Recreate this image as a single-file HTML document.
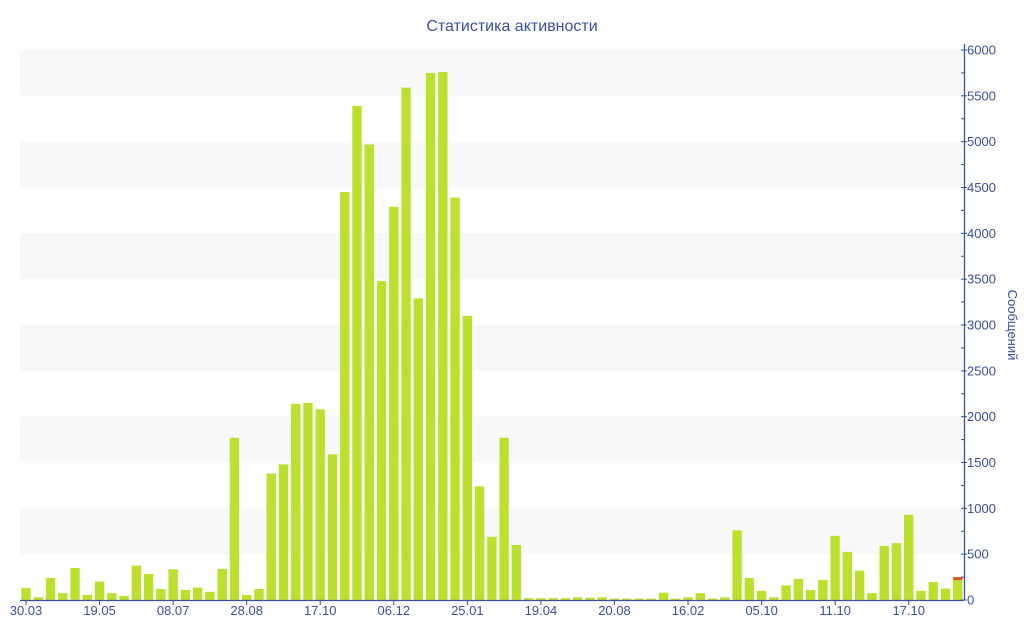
<!DOCTYPE html>
<html><head><meta charset="utf-8"><style>
html,body{margin:0;padding:0;background:#fff}
svg{display:block;font-family:"Liberation Sans","DejaVu Sans",sans-serif}
</style></head><body>
<svg id="c" width="1024" height="640" xmlns="http://www.w3.org/2000/svg">
<rect width="1024" height="640" fill="#fff"/>
<g id="bands"></g>
<g id="bars"></g>
<line x1="20" y1="600.5" x2="964" y2="600.5" stroke="#3d4f9f" stroke-width="1.3"/>
<line x1="964.5" y1="44" x2="964.5" y2="600" stroke="#3d4f9f" stroke-width="1.3"/>
<g id="ticks" stroke="#3d4f9f" stroke-width="1"></g>
<g id="ylab" fill="#3d4f9f" font-size="13"></g>
<g id="xlab" fill="#3d4f9f" font-size="13" text-anchor="middle"></g>
<text x="512" y="31" text-anchor="middle" fill="#3d4f9f" font-size="16">Статистика активности</text>
<text transform="translate(1008,325) rotate(90)" text-anchor="middle" fill="#3d4f9f" font-size="13">Сообщений</text>
</svg>
<script>
var NS="http://www.w3.org/2000/svg";
function el(p,t,a,txt){var e=document.createElementNS(NS,t);for(var k in a)e.setAttribute(k,a[k]);if(txt!=null)e.textContent=txt;document.getElementById(p).appendChild(e);}
function Y(v){return 600-v*550/6000;}
for(var k=1;k<=6;k++){el("bands","rect",{x:20,y:Y(k*1000),width:944,height:Y(k*1000-500)-Y(k*1000),fill:"#f8f8f8"});}
var d=[130,30,240,75,350,55,200,75,45,375,285,120,335,110,135,90,340,1770,55,120,1380,1480,2140,2150,2080,1590,4450,5390,4970,3480,4290,5590,3290,5750,5760,4390,3100,1240,690,1770,600,20,20,20,20,30,25,30,15,15,15,15,80,15,30,75,15,30,760,240,100,30,160,230,110,220,700,525,320,75,590,620,930,100,195,125,220];
for(var i=0;i<d.length;i++){var cx=26+i*12.26;el("bars","rect",{x:cx-4.7,y:Y(d[i]),width:9.4,height:600-Y(d[i]),fill:"#bde02e"});}
el("bars","rect",{x:26+76*12.26-4.7,y:Y(250),width:9.4,height:3,fill:"#e0522a"});
for(var v=0;v<=6000;v+=250){var y=Y(v);var maj=v%500==0;el("ticks","line",{x1:maj?961:961,y1:y,x2:maj?967:964.5,y2:y});if(maj)el("ylab","text",{x:967,y:y+4.5},String(v));}
var xl=["30.03","19.05","08.07","28.08","17.10","06.12","25.01","19.04","20.08","16.02","05.10","11.10","17.10"];
for(var j=0;j<xl.length;j++){var x=26+j*6*12.26;el("ticks","line",{x1:x,y1:600,x2:x,y2:605});el("xlab","text",{x:x,y:615},xl[j]);}
</script>
</body></html>
